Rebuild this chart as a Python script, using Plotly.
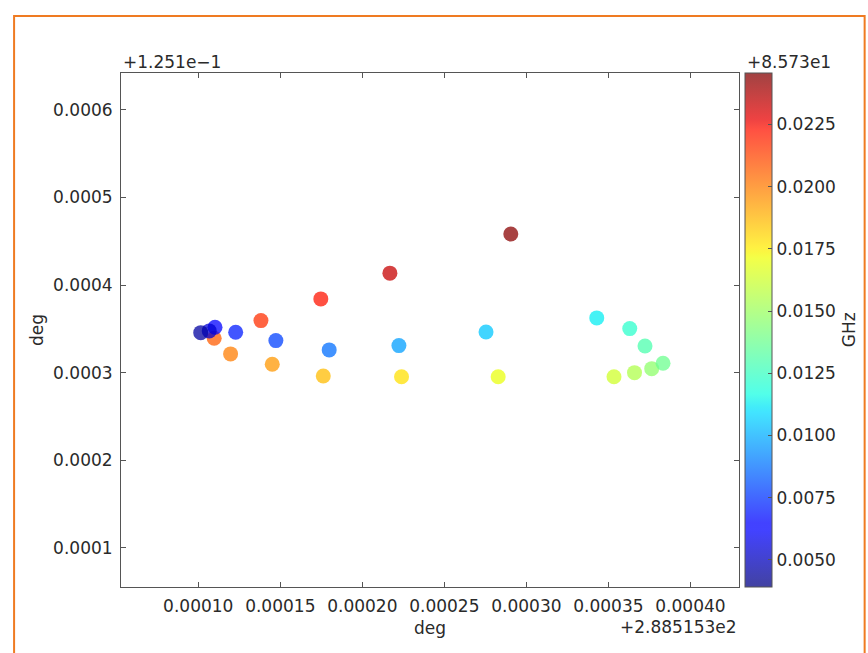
import numpy as np
import plotly.graph_objects as go

# Offsets shown by the axes (matplotlib-style offset text)
X_OFFSET_LABEL = "+2.885153e2"
Y_OFFSET_LABEL = "+1.251e\u22121"
C_OFFSET_LABEL = "+8.573e1"

# Values relative to the offsets (deg, deg, GHz), listed from high to low frequency
x_vals = [0.0002905, 0.0002168, 0.0001747, 0.0001382, 0.0001097, 0.0001197, 0.0001451,
          0.0001762, 0.0002239, 0.0002828, 0.0003534, 0.0003659, 0.0003764, 0.0003833,
          0.0003723, 0.0003630, 0.0003429, 0.0002754, 0.0002223, 0.0001798, 0.0001473,
          0.0001228, 0.0001102, 0.0001067, 0.0001015]
y_vals = [0.0004582, 0.0004136, 0.0003842, 0.0003594, 0.0003393, 0.0003214, 0.0003096,
          0.0002962, 0.0002954, 0.0002954, 0.0002954, 0.0003000, 0.0003046, 0.0003107,
          0.0003305, 0.0003503, 0.0003625, 0.0003465, 0.0003309, 0.0003260, 0.0003366,
          0.0003462, 0.0003519, 0.0003477, 0.0003457]
freq_vals = [0.0244, 0.0233, 0.0223, 0.0217, 0.0207, 0.0200, 0.0194,
             0.0186, 0.0178, 0.0170, 0.0163, 0.0155, 0.0147, 0.0138,
             0.0130, 0.0122, 0.0113, 0.0105, 0.0097, 0.0087, 0.0078,
             0.0070, 0.0062, 0.0054, 0.0045]

x_ticks = [0.00010, 0.00015, 0.00020, 0.00025, 0.00030, 0.00035, 0.00040]
y_ticks = [0.0001, 0.0002, 0.0003, 0.0004, 0.0005, 0.0006]
c_ticks = [0.0050, 0.0075, 0.0100, 0.0125, 0.0150, 0.0175, 0.0200, 0.0225]

# matplotlib "jet" colormap as a plotly colorscale, with alpha
ALPHA = 0.74
r_pts = ([0, 0.35, 0.66, 0.89, 1], [0, 0, 1, 1, 0.5])
g_pts = ([0, 0.125, 0.375, 0.64, 0.91, 1], [0, 0, 1, 1, 0, 0])
b_pts = ([0, 0.11, 0.34, 0.65, 1], [0.5, 1, 1, 0, 0])
stops = sorted(set(r_pts[0] + g_pts[0] + b_pts[0]))
jet = []
for s in stops:
    r = np.interp(s, *r_pts); g = np.interp(s, *g_pts); b = np.interp(s, *b_pts)
    jet.append([s, f"rgba({int(round(r*255))},{int(round(g*255))},{int(round(b*255))},{ALPHA})"])

FONT = "DejaVu Sans"
FS = 17
TXT = "#2a2a2a"

fig = go.Figure()
fig.add_trace(go.Scatter(
    x=x_vals, y=y_vals, mode="markers",
    marker=dict(size=15, color=freq_vals, colorscale=jet, cmin=0.00391, cmax=0.02457,
                line=dict(width=0),
                colorbar=dict(
                    x=1.0092, xanchor="left", xpad=0, y=0.5, yanchor="middle", ypad=0,
                    len=1, lenmode="fraction", thickness=27, thicknessmode="pixels",
                    outlinewidth=1, outlinecolor="#555555",
                    tickvals=c_ticks, tickformat=".4f", ticks="inside", ticklen=4,
                    tickcolor="#555555",
                    tickfont=dict(family=FONT, size=FS, color=TXT),
                    ticklabelposition="outside")),
    showlegend=False, hoverinfo="skip"))

axis_common = dict(showline=True, linecolor="#555555", linewidth=1, mirror="ticks",
                   ticks="inside", ticklen=5, tickcolor="#555555", showgrid=False,
                   zeroline=False, tickfont=dict(family=FONT, size=FS, color=TXT))

fig.update_xaxes(range=[0.0000529, 0.0004296], tickvals=x_ticks, tickformat=".5f",
                 ticklabelstandoff=4, **axis_common)
fig.update_yaxes(range=[0.0000554, 0.000642], tickvals=y_ticks, tickformat=".4f",
                 ticklabelstandoff=4, **axis_common)

def ann(text, x, y, xanchor="center", yanchor="middle", angle=0):
    fig.add_annotation(text=text, x=x, y=y, xref="paper", yref="paper", showarrow=False,
                       xanchor=xanchor, yanchor=yanchor, textangle=angle,
                       font=dict(family=FONT, size=FS, color=TXT))

ann("deg", 0.5, -0.0795)
ann("deg", -0.1359, 0.5, angle=-90)
ann("GHz", 1.1782, 0.5, angle=-90)
ann(X_OFFSET_LABEL, 1.0, -0.0775, xanchor="right")
ann(Y_OFFSET_LABEL, 0.0, 1.0214, xanchor="left")
ann(C_OFFSET_LABEL, 1.0092, 1.0214, xanchor="left")

# orange frame around the figure
fig.add_shape(type="rect", xref="paper", yref="paper", x0=-0.173, x1=1.2033,
              y0=-0.25, y1=1.111, line=dict(color="#ef7b22", width=2), fillcolor="rgba(0,0,0,0)")

fig.update_layout(width=868, height=653, margin=dict(l=121, r=128.7, t=73, b=66.3),
                  paper_bgcolor="white", plot_bgcolor="white")

fig.write_html("out.html")
